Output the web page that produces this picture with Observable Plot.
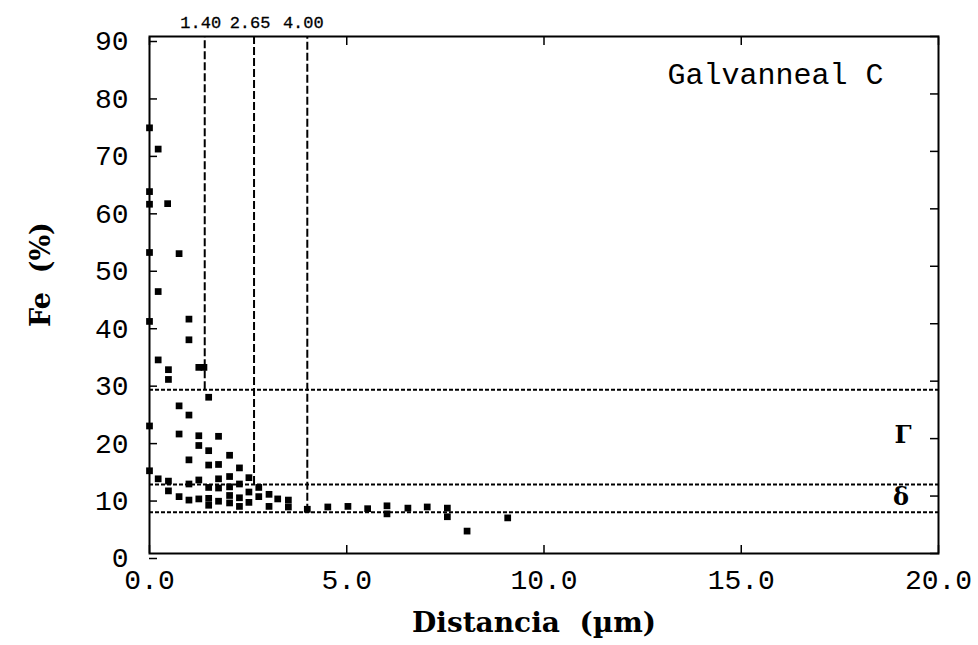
<!DOCTYPE html>
<html>
<head>
<meta charset="utf-8">
<script src="https://cdn.jsdelivr.net/npm/d3@7"></script>
<script src="https://cdn.jsdelivr.net/npm/@observablehq/plot@0.6"></script>
<style>
  html, body { margin: 0; padding: 0; background: #fff; }
  #chart svg { display: block; }
</style>
</head>
<body>
<div id="chart"></div>
<script>
// Distance (µm) and Fe (%) of each measured point
const distance = [
  0, 0, 0, 0, 0, 0, 0,
  0.22, 0.22, 0.22, 0.22,
  0.46, 0.48, 0.48, 0.48, 0.48,
  0.75, 0.75, 0.75, 0.75,
  1.0, 1.0, 1.0, 1.0, 1.0, 1.0,
  1.25, 1.38, 1.25, 1.25, 1.25, 1.25,
  1.5, 1.5, 1.5, 1.5, 1.5, 1.5,
  1.75, 1.75, 1.75, 1.75, 1.75,
  2.03, 2.03, 2.03, 2.03, 2.03,
  2.28, 2.28, 2.28, 2.28,
  2.52, 2.52, 2.52,
  2.77, 2.77,
  3.03, 3.03,
  3.25,
  3.52, 3.52,
  4.0, 4.52, 5.03, 5.53, 6.02, 6.02, 6.55, 7.04, 7.55, 7.55, 8.05, 9.08
];
const fe = [
  74.1, 63.0, 60.8, 52.4, 40.4, 22.2, 14.4,
  70.4, 45.6, 33.7, 13.0,
  60.9, 32.0, 30.3, 12.6, 10.9,
  52.2, 25.7, 20.8, 9.9,
  40.8, 37.2, 24.1, 16.3, 12.1, 9.3,
  32.4, 32.4, 20.5, 18.8, 12.8, 9.5,
  27.2, 17.9, 15.4, 11.5, 9.6, 8.4,
  20.4, 15.5, 13.0, 11.4, 9.1,
  17.1, 13.4, 11.6, 10.1, 8.8,
  14.9, 12.1, 9.7, 8.2,
  13.2, 10.7, 8.9,
  11.5, 9.9,
  10.3, 8.2,
  9.5,
  9.3, 8.1,
  7.7, 8.1, 8.2, 7.8, 8.3, 6.9, 7.9, 8.1, 7.9, 6.4, 3.9, 6.2
];

// Phase boundaries
const boundaryX = [1.40, 2.65, 4.00];
const boundaryXLabels = ["1.40", "2.65", "4.00"];
const boundaryFe = [28.5, 12.0, 7.2];

// Phase labels
const phaseNames = ["\u0393", "\u03B4"];
const phaseX = [19.1, 19.05];
const phaseFe = [20.5, 9.7];

const xTicks = [0, 5, 10, 15, 20];
const yTicks = [0, 10, 20, 30, 40, 50, 60, 70, 80, 90];

const points = distance.map((d, i) => ({d, fe: fe[i]}));
const vlines = boundaryX.map((x, i) => ({x, label: boundaryXLabels[i], bottom: boundaryFe[i]}));
const phases = phaseNames.map((n, i) => ({n, x: phaseX[i], y: phaseFe[i]}));

const mono = "'Liberation Mono', 'DejaVu Sans Mono', monospace";
const serif = "'DejaVu Serif', 'Liberation Serif', serif";

const chart = Plot.plot({
  width: 978,
  height: 645,
  marginLeft: 149,
  marginRight: 40,
  marginTop: 36,
  marginBottom: 92,
  style: {background: "#fff", color: "#000", fontFamily: mono},
  x: {domain: [0, 20]},
  y: {domain: [0, 90]},
  marks: [
    // horizontal dotted boundaries
    Plot.ruleY(boundaryFe, {x1: 0, x2: 20, stroke: "#000", strokeWidth: 2, strokeDasharray: "4,2"}),
    // vertical dashed boundaries
    Plot.ruleX(vlines, {x: "x", y1: "bottom", y2: 90, stroke: "#000", strokeWidth: 2, strokeDasharray: "8,3"}),
    Plot.text(vlines, {x: "x", y: () => 90, text: "label", dy: -14, dx: -4, fontSize: 17, fontFamily: mono, fill: "#000", stroke: "#000", strokeWidth: 0.3}),
    // data
    Plot.dot(points, {x: "d", y: "fe", symbol: "square", r: 3.8, fill: "#000", stroke: null}),
    // phase labels
    Plot.text(phases, {x: "x", y: "y", text: "n", fontSize: 24, fontWeight: "bold", fontFamily: serif, fill: "#000"}),
    // title
    Plot.text(["Galvanneal C"], {frameAnchor: "top-right", dx: -55, dy: 26, text: d => d, fontSize: 30, fontFamily: mono, fill: "#000", textAnchor: "end"}),
    // axes
    Plot.axisX(xTicks, {anchor: "bottom", tickSize: -8, tickPadding: 24, tickFormat: d3.format(".1f"), fontSize: 28, fontFamily: mono, label: null, strokeWidth: 1.5}),
    Plot.axisX(xTicks, {anchor: "top", tickSize: -8, tickFormat: () => "", label: null, strokeWidth: 1.5}),
    Plot.axisY(yTicks, {anchor: "left", tickSize: -8, tickPadding: 29, dy: 5, fontSize: 28, fontFamily: mono, label: null, strokeWidth: 1.5}),
    Plot.axisY(yTicks, {anchor: "right", tickSize: -9, tickFormat: () => "", label: null, strokeWidth: 1.5}),
    Plot.frame({stroke: "#000", strokeWidth: 2}),
    // axis titles
    Plot.text(["Distancia  (\u00B5m)"], {frameAnchor: "bottom", dy: 78, dx: -10, text: d => d, fontSize: 28, fontWeight: "bold", fontFamily: serif, fill: "#000"}),
    Plot.text(["Fe  (%)"], {frameAnchor: "left", dx: -108, dy: 32, rotate: -90, text: d => d, fontSize: 27, fontWeight: "bold", fontFamily: serif, fill: "#000"})
  ]
});
document.getElementById("chart").appendChild(chart);
</script>
</body>
</html>
